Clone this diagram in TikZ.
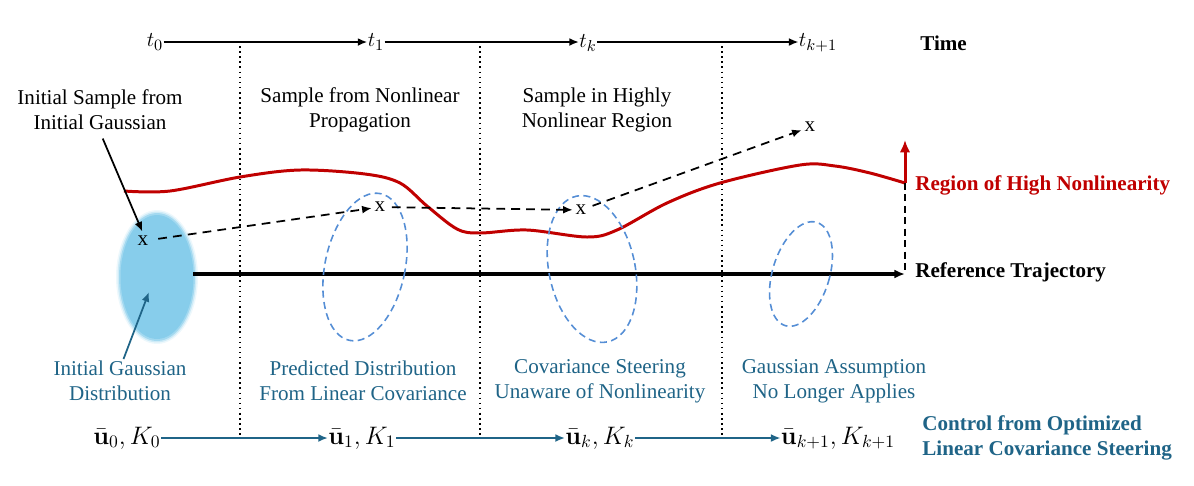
\documentclass[tikz,border=0pt]{standalone}
\usepackage[no-math]{fontspec}
\setmainfont{Liberation Serif}
\usetikzlibrary{arrows.meta}
\definecolor{redc}{RGB}{192,0,0}
\definecolor{tealc}{RGB}{31,100,135}
\definecolor{gaussc}{RGB}{135,205,235}
\definecolor{ellc}{RGB}{85,142,213}
\begin{document}
\begin{tikzpicture}[x=0.02cm,y=-0.02cm,
  lbl/.style={font=\fontsize{12}{14.2}\selectfont, align=center, inner sep=1pt},
  blbl/.style={lbl, text=tealc},
  boldlbl/.style={font=\fontsize{12}{14.2}\selectfont\bfseries, align=left, inner sep=0pt, anchor=west},
  tnode/.style={font=\fontsize{13}{15}\selectfont, inner sep=0pt},
  unode/.style={font=\fontsize{14}{16}\selectfont, inner sep=0pt},
  smp/.style={font=\fontsize{12}{14}\selectfont, inner sep=1.5pt},
  arr/.style={-{Latex[length=5.5pt,width=4.5pt]}},
  axisarr/.style={arr, line width=1.1pt},
  ctrlarr/.style={arr, line width=1.1pt, draw=tealc},
  divider/.style={line width=0.9pt, dotted},
  redline/.style={line width=1.7pt, draw=redc},
  covell/.style={draw=ellc, line width=0.9pt, dash pattern=on 4pt off 2.5pt},
  samplearr/.style={arr, line width=1pt, dash pattern=on 5pt off 3.5pt}]
\useasboundingbox (0,0) rectangle (1194,485);

% dividers
\draw[divider] (240,41) -- (240,435);
\draw[divider] (480,41) -- (480,435);
\draw[divider] (722,41) -- (722,435);

% time axis
\node[tnode] (t0) at (155,42) {$t_0$};
\node[tnode] (t1) at (376,42) {$t_1$};
\node[tnode] (tk) at (588,43) {$t_k$};
\node[tnode] (tk1) at (818,43) {$t_{k+1}$};
\draw[axisarr] (t0.east) -- (t1.west);
\draw[axisarr] (t1.east) -- (tk.west |- t1.west);
\draw[axisarr] (tk.east |- t1.east) -- (tk1.west |- t1.west);
\node[boldlbl] (time) at (920,43) {Time};

% top labels
\node[lbl] (lab1) at (100,110) {Initial Sample from\\Initial Gaussian};
\node[lbl] (lab2) at (360,110) {Sample from Nonlinear\\Propagation};
\node[lbl] (lab3) at (597,110) {Sample in Highly\\Nonlinear Region};

% initial gaussian (soft edge)
\fill[gaussc, opacity=0.15] (157,277) ellipse [x radius=0.82cm, y radius=1.34cm];
\fill[gaussc, opacity=0.3] (157,277) ellipse [x radius=0.79cm, y radius=1.31cm];
\fill[gaussc, opacity=0.6] (157,277) ellipse [x radius=0.76cm, y radius=1.28cm];
\fill[gaussc] (157,277) ellipse [x radius=0.73cm, y radius=1.24cm];

% red nonlinear region boundary
\coordinate (rend) at (905,183);
\coordinate (refend) at (905,274);
\coordinate (rtop) at (905,140);
\draw[redline] plot[smooth, tension=0.55] coordinates {(124,191) (170,191) (240,177) (300,170) (365,174) (400,183) (427,206) (457,229) (480,233) (527,230) (587,237) (617,230) (667,203) (720,183) (800,165) (835,166) (870,173) (905,183)};
\draw[redline, -{Latex[length=7pt,width=6pt]}] (rend) -- (rtop);
\node[boldlbl, text=redc] (region) at (915,185) {Region of High Nonlinearity};

% reference trajectory
\coordinate (refstart) at (193,274);
\draw[line width=1.9pt, -{Latex[length=6pt,width=5pt]}] (refstart) -- (refend);
\draw[line width=1pt, dash pattern=on 4pt off 2.5pt] (rend) -- (refend);
\node[boldlbl] (reftraj) at (915,272) {Reference Trajectory};

% covariance ellipses
\draw[covell] (365,267) ellipse [x radius=0.8cm, y radius=1.5cm, rotate=-12];
\draw[covell] (592,269) ellipse [x radius=0.86cm, y radius=1.49cm, rotate=12];
\draw[covell] (801,274) ellipse [x radius=0.57cm, y radius=1.08cm, rotate=-17];

% samples
\node[smp] (s0) at (143,241) {x};
\node[smp] (s1) at (380,207) {x};
\node[smp] (s2) at (581,210) {x};
\node[smp] (s3) at (810,127) {x};
\draw[samplearr, shorten <=4pt] (s0) -- (s1);
\draw[samplearr, shorten <=2pt] (s1) -- (s2);
\draw[samplearr, shorten <=2pt] (s2) -- (s3);
\draw[arr, line width=1pt, shorten >=1pt, shorten <=4pt] (lab1.south) -- (s0.north);

% bottom labels
\coordinate (gin) at (149,292);
\node[blbl] (lab5) at (120,381) {Initial Gaussian\\Distribution};
\node[blbl] (lab6) at (363,381) {Predicted Distribution\\From Linear Covariance};
\node[blbl] (lab7) at (600,381) {Covariance Steering\\Unaware of Nonlinearity};
\node[blbl] (lab8) at (834,381) {Gaussian Assumption\\No Longer Applies};
\draw[arr, line width=1pt, draw=tealc, fill=tealc] ([xshift=2pt]lab5.north) -- (gin);

% controls
\node[unode] (u0) at (127,438) {$\bar{\mathbf{u}}_0, K_0$};
\node[unode] (u1) at (362,438) {$\bar{\mathbf{u}}_1, K_1$};
\node[unode] (uk) at (600,438) {$\bar{\mathbf{u}}_k, K_k$};
\node[unode] (uk1) at (838,438) {$\bar{\mathbf{u}}_{k+1}, K_{k+1}$};
\draw[ctrlarr] (u0.east |- 0,438) -- (u1.west |- 0,438);
\draw[ctrlarr] (u1.east |- 0,438) -- (uk.west |- 0,438);
\draw[ctrlarr] (uk.east |- 0,438) -- (uk1.west |- 0,438);
\node[boldlbl, text=tealc] (ctrl) at (922,438) {Control from Optimized\\Linear Covariance Steering};
\end{tikzpicture}
\end{document}
